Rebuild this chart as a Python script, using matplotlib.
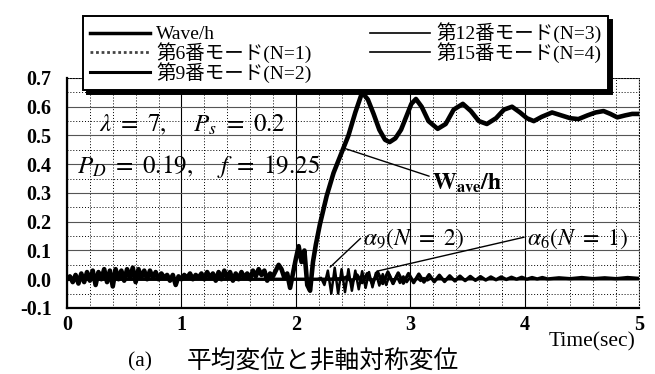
import matplotlib
matplotlib.use('Agg')
import matplotlib.pyplot as plt
from matplotlib.lines import Line2D
from matplotlib.ticker import MultipleLocator
import numpy as np

plt.rcParams['font.family'] = ['Liberation Serif', 'Noto Sans CJK JP']
plt.rcParams['mathtext.fontset'] = 'stix'

# Wave/h : noisy part sampled every 0.025 s from 0 to 2.175 s
wave_early = [
    0.00, 0.01, -0.01, 0.015, -0.015, 0.02, -0.01, 0.025, -0.005, 0.03,
    -0.02, 0.025, 0.0, 0.035, -0.01, 0.03, -0.025, 0.035, 0.0, 0.03,
    -0.005, 0.035, 0.005, 0.04, -0.01, 0.035, 0.005, 0.03, 0.0, 0.03,
    0.005, 0.025, 0.0, 0.02, 0.005, 0.015, -0.005, 0.015, -0.02, 0.01,
    0.0, 0.015, 0.005, 0.02, 0.0, 0.015, 0.005, 0.02, 0.0, 0.025,
    0.005, 0.02, -0.005, 0.025, 0.0, 0.03, 0.005, 0.025, -0.005, 0.02,
    0.0, 0.025, 0.005, 0.02, 0.0, 0.03, 0.01, 0.035, 0.015, 0.03,
    -0.005, 0.02, 0.01, 0.03, 0.05, 0.035, 0.005, 0.02, -0.03, 0.02,
    0.07, 0.115, 0.06, 0.10, -0.02, -0.04, 0.06, 0.12,
]
t_early = np.arange(len(wave_early)) * 0.025

t_late = [2.21, 2.27, 2.33, 2.40, 2.46, 2.52, 2.58, 2.63, 2.68, 2.73,
          2.78, 2.82, 2.87, 2.92, 2.97, 3.01, 3.05, 3.10, 3.16, 3.24,
          3.31, 3.38, 3.46, 3.53, 3.60, 3.67, 3.75, 3.82, 3.89, 3.96,
          4.02, 4.08, 4.15, 4.24, 4.32, 4.40, 4.47, 4.55, 4.62, 4.69,
          4.75, 4.81, 4.88, 4.94, 5.00]
wave_late = [0.19, 0.29, 0.37, 0.44, 0.50, 0.58, 0.65, 0.625, 0.575, 0.52,
             0.485, 0.477, 0.49, 0.52, 0.57, 0.61, 0.627, 0.60, 0.55, 0.523,
             0.54, 0.59, 0.61, 0.585, 0.55, 0.54, 0.56, 0.59, 0.60, 0.58,
             0.56, 0.55, 0.565, 0.58, 0.57, 0.56, 0.557, 0.57, 0.58, 0.585,
             0.575, 0.563, 0.57, 0.575, 0.575]

# 第9番モード (N=2)
t_m9 = [0.0, 2.19, 2.22, 2.25, 2.28, 2.31, 2.34, 2.37, 2.40, 2.43, 2.46,
        2.49, 2.52, 2.55, 2.58, 2.61, 2.64, 2.67, 2.70, 2.73, 2.76,
        2.79, 2.82, 2.85, 2.88, 2.91, 2.94, 2.97, 3.00, 3.03, 3.06,
        3.09, 3.12, 3.15, 3.18, 3.21, 3.24, 5.00]
m9 = [0.0, 0.0, 0.005, -0.02, 0.03, -0.05, 0.04, -0.05, 0.035, -0.045, 0.035,
      -0.04, 0.03, -0.035, 0.028, -0.03, 0.025, -0.028, 0.022, -0.022, 0.018,
      -0.02, 0.015, -0.016, 0.012, -0.013, 0.01, -0.01, 0.008, -0.008, 0.006,
      -0.006, 0.004, -0.004, 0.003, -0.002, 0.0, 0.0]

# 第6番モード (N=1)
t_m6 = [0.0, 2.40, 2.445, 2.49, 2.535, 2.58, 2.625, 2.67, 2.715, 2.76, 2.805,
        2.85, 2.895, 2.94, 2.985, 3.03, 3.075, 3.12, 3.165, 3.21, 3.255,
        3.30, 3.345, 3.39, 3.435, 3.48, 3.525, 3.57, 3.615, 3.66, 3.705,
        3.75, 3.795, 3.84, 3.885, 3.93, 3.975, 4.02, 4.065, 4.11, 4.155,
        4.20, 4.30, 4.40, 4.50, 4.60, 4.70, 4.80, 4.90, 5.00]
m6 = [0.0, 0.0, 0.008, -0.01, 0.015, -0.012, 0.02, -0.015, 0.025, -0.015, 0.025,
      -0.015, 0.022, -0.014, 0.02, -0.012, 0.018, -0.01, 0.016, -0.009, 0.014,
      -0.008, 0.012, -0.006, 0.011, -0.005, 0.01, -0.004, 0.009, -0.003, 0.008,
      -0.002, 0.008, -0.001, 0.007, 0.0, 0.007, 0.0, 0.006, 0.001, 0.006,
      0.001, 0.005, 0.002, 0.006, 0.002, 0.005, 0.002, 0.006, 0.003]

# 第12番, 第15番モード
t_m12 = [0.0, 2.2, 2.4, 2.6, 2.8, 3.0, 3.4, 5.0]
m12 = [0.0, 0.0, 0.006, -0.005, 0.004, -0.002, 0.0, 0.0]
t_m15 = [0.0, 2.2, 2.4, 2.6, 2.8, 3.0, 5.0]
m15 = [0.0, 0.0, -0.004, 0.004, -0.002, 0.0, 0.0]

labels = ['Wave/h', '第6番モード(N=1)', '第9番モード(N=2)',
          '第12番モード(N=3)', '第15番モード(N=4)']
yticks = [-0.1, 0.0, 0.1, 0.2, 0.3, 0.4, 0.5, 0.6, 0.7]
xticks = [0, 1, 2, 3, 4, 5]

fig = plt.figure(figsize=(6.55, 3.74), dpi=100)
ax = fig.add_axes([0.1023, 0.1765, 0.8733, 0.615])

ax.plot(t_m12, m12, color='black', lw=0.8)
ax.plot(t_m15, m15, color='black', lw=0.8)
ax.plot(t_m6, m6, color='black', lw=2.4)
ax.plot(t_m9, m9, color='black', lw=1.8)
ax.plot(np.concatenate([t_early, t_late]), wave_early + wave_late,
        color='black', lw=3.3, solid_joinstyle='round')

ax.set_xlim(0, 5)
ax.set_ylim(-0.1, 0.7)
ax.xaxis.set_minor_locator(MultipleLocator(0.2))
ax.yaxis.set_minor_locator(MultipleLocator(0.05))
ax.set_yticks(yticks)
ax.set_yticklabels([f'{v:.1f}' for v in yticks])
ax.set_xticks(xticks)

ax.grid(which='minor', color='black', linestyle=(0, (1, 2)), lw=0.7)
ax.grid(which='major', axis='x', color='black', linestyle='-', lw=0.8)
ax.grid(which='major', axis='y', color='#555555', linestyle='-', lw=0.8)

for s in ['top', 'right']:
    ax.spines[s].set_linestyle((0, (1, 2)))
    ax.spines[s].set_linewidth(0.7)
for s in ['left', 'bottom']:
    ax.spines[s].set_linewidth(1.6)

ax.tick_params(which='both', length=0)
ax.tick_params(axis='y', labelsize=14.5, pad=11)
ax.tick_params(axis='x', labelsize=14.5, pad=5)
for lab in ax.get_xticklabels() + ax.get_yticklabels():
    lab.set_fontweight('bold')

handles = [
    Line2D([], [], color='black', lw=2.5),
    Line2D([], [], color='#444444', lw=2.0, linestyle=(0, (1, 1))),
    Line2D([], [], color='black', lw=2.2),
    Line2D([], [], color='black', lw=1.2),
    Line2D([], [], color='black', lw=1.2),
]
leg = ax.legend(handles, labels, ncol=2, loc='lower left',
                bbox_to_anchor=(0.028, 0.948, 0.918, 0.335), mode='expand',
                fontsize=14, handlelength=3.1, handletextpad=0.3,
                labelspacing=-0.05, borderpad=0.35, borderaxespad=0,
                fancybox=False, framealpha=1, edgecolor='black',
                shadow={'ox': 3, 'oy': -3, 'facecolor': 'black',
                        'edgecolor': 'black', 'alpha': 1})
leg.get_frame().set_linewidth(1.4)

ax.text(0.28, 0.515, r'$\lambda\ =\ 7,\ \ \ \ P_s\ =\ 0.2$', fontsize=18)
ax.text(0.09, 0.37, r'$P_D\ =\ 0.19,\ \ \ \ f\ =\ 19.25$', fontsize=18)

ax.annotate(r'$\mathbf{W_{ave}/h}$', xy=(2.42, 0.456), xytext=(3.19, 0.335),
            fontsize=17, va='center',
            arrowprops=dict(arrowstyle='-', color='black', lw=1.0,
                            shrinkA=0, shrinkB=0, relpos=(0, 0.75)))
ax.annotate(r'$\alpha_9(N\ =\ 2)$', xy=(2.30, 0.042), xytext=(2.59, 0.14),
            fontsize=17, va='center',
            arrowprops=dict(arrowstyle='-', color='black', lw=1.0,
                            shrinkA=0, shrinkB=0, relpos=(0.03, 0.75)))
ax.annotate(r'$\alpha_6(N\ =\ 1)$', xy=(2.71, 0.028), xytext=(4.02, 0.14),
            fontsize=17, va='center',
            arrowprops=dict(arrowstyle='-', color='black', lw=1.0,
                            shrinkA=0, shrinkB=0, relpos=(0, 0.6)))

fig.text(0.97, 0.086, 'Time(sec)', fontsize=15.5, ha='right', va='center')
fig.text(0.195, 0.032, '(a)', fontsize=15.5, ha='left', va='center')
fig.text(0.285, 0.032, '平均変位と非軸対称変位', fontsize=17.8, ha='left',
         va='center', family='Noto Sans CJK JP')

fig.savefig('out.png', dpi=100)
